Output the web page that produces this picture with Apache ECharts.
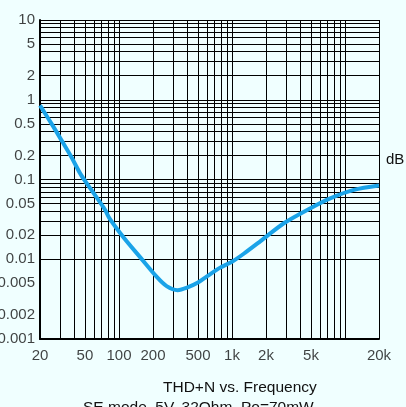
<!DOCTYPE html>
<html>
<head>
<meta charset="utf-8">
<script src="https://cdn.jsdelivr.net/npm/echarts@6/dist/echarts.min.js"></script>
<style>
html,body{margin:0;padding:0;background:#f0ffff;}
#chart{width:406px;height:407px;}
</style>
</head>
<body>
<div id="chart"></div>
<script>
// THD+N curve (Hz, %)
var freq = [20, 26, 31, 38, 46, 57, 75, 83, 109, 153, 216, 264, 330, 400, 500, 600, 780, 1000, 1300, 1800, 2900, 5000, 7400, 12000, 20000]
var thd  = [0.85, 0.47, 0.31, 0.19, 0.115, 0.074, 0.042, 0.032, 0.019, 0.0107, 0.006, 0.0046, 0.0041, 0.0044, 0.0051, 0.0061, 0.0078, 0.0093, 0.012, 0.017, 0.0285, 0.044, 0.058, 0.074, 0.084]

// grid lines
var xGrid = [20,30,40,50,60,70,80,90,100,200,300,400,500,600,700,800,900,1000,2000,3000,4000,5000,6000,7000,8000,9000,10000,20000]
var yGrid = [0.001,0.002,0.003,0.004,0.005,0.006,0.007,0.008,0.009,
             0.01,0.02,0.03,0.04,0.05,0.06,0.07,0.08,0.09,
             0.1,0.2,0.3,0.4,0.5,0.6,0.7,0.8,0.9,
             1,2,3,4,5,6,7,8,9,10]

// tick labels
var xTicks = [20, 50, 100, 200, 500, 1000, 2000, 5000, 20000]
var xTickText = ['20', '50', '100', '200', '500', '1k', '2k', '5k', '20k']
var yTicks = [10, 5, 2, 1, 0.5, 0.2, 0.1, 0.05, 0.02, 0.01, 0.005, 0.002, 0.001]

var font = 'Liberation Sans, Arial, sans-serif'
var chart = echarts.init(document.getElementById('chart'))

var gridLines = []
xGrid.forEach(function(v){ gridLines.push({xAxis: v}) })
yGrid.forEach(function(v){ gridLines.push({yAxis: v}) })

var option = {
    backgroundColor: '#f0ffff',
    animation: false,
    title: [
        {text: 'THD+N vs. Frequency', left: 158, top: 375,
         textStyle: {fontFamily: font, fontSize: 15.5, fontWeight: 'normal', color: '#111'}},
        {text: 'SE mode, 5V, 32Ohm, Po=70mW', left: 78, top: 395,
         textStyle: {fontFamily: font, fontSize: 15.5, fontWeight: 'normal', color: '#111'}}
    ],
    graphic: [
        {type: 'text', left: 386, top: 152,
         style: {text: 'dB', font: '15px ' + font, fill: '#111'}}
    ],
    grid: {left: 40, right: 27, top: 20, bottom: 68},
    xAxis: {
        type: 'log', logBase: 10, min: 20, max: 20000,
        axisLine: {show: true, onZero: false, lineStyle: {color: '#000', width: 2}},
        axisTick: {show: false},
        axisLabel: {show: false},
        splitLine: {show: false}
    },
    yAxis: {
        type: 'log', logBase: 10, min: 0.001, max: 10,
        axisLine: {show: true, onZero: false, lineStyle: {color: '#000', width: 2}},
        axisTick: {show: false},
        axisLabel: {show: false},
        splitLine: {show: false}
    },
    series: [
        {
            // grid
            type: 'line', data: [], z: 1, silent: true,
            markLine: {
                silent: true, symbol: 'none', animation: false,
                label: {show: false},
                lineStyle: {color: '#000', width: 1, type: 'solid'},
                data: gridLines
            }
        },
        {
            type: 'line', z: 5,
            data: freq.map(function(f, i){ return [f, thd[i]] }),
            smooth: 0.3, showSymbol: false, symbol: 'none',
            lineStyle: {color: '#1aa3e8', width: 4}
        },
        {
            // x tick labels
            type: 'scatter', symbolSize: 0, silent: true, z: 6,
            data: xTicks.map(function(v){ return [v, 0.001] }),
            label: {show: true, position: 'bottom', distance: 9,
                formatter: function(p){ return xTickText[p.dataIndex] },
                fontFamily: font, fontSize: 15, color: '#111'}
        },
        {
            // y tick labels
            type: 'scatter', symbolSize: 0, silent: true, z: 6,
            data: yTicks.map(function(v){ return [20, v] }),
            label: {show: true, position: 'left', distance: 5,
                formatter: function(p){ return String(yTicks[p.dataIndex]) },
                fontFamily: font, fontSize: 15, color: '#111'}
        }
    ]
}
chart.setOption(option)
</script>
</body>
</html>
